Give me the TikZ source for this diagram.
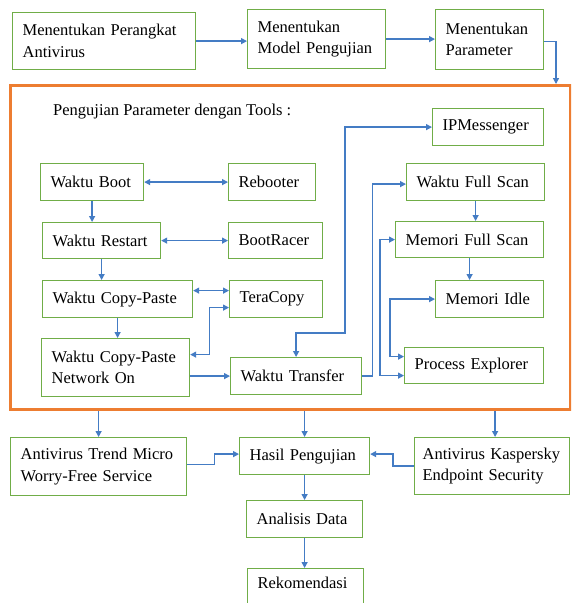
\documentclass[tikz,border=0pt]{standalone}
\usepackage{fontspec}
\setmainfont{Liberation Serif}
\usetikzlibrary{arrows.meta}
\definecolor{boxgreen}{RGB}{112,173,71}
\definecolor{arrblue}{RGB}{68,124,196}
\definecolor{grporange}{RGB}{237,125,49}
\begin{document}
\begin{tikzpicture}[x=1pt,y=-1pt,
  box/.style={draw=boxgreen, line width=1.2pt, fill=white, anchor=north west, align=left,
    inner xsep=10pt, inner ysep=0pt, font=\fontsize{16.5}{21.5}\selectfont},
  grpbox/.style={draw=grporange, line width=3pt, anchor=north west, inner sep=0pt},
  arr/.style={draw=arrblue, line width=1.3pt, -{Triangle[length=6pt,width=6pt]}},
  darr/.style={draw=arrblue, line width=1.3pt, {Triangle[length=6pt,width=6pt]}-{Triangle[length=6pt,width=6pt]}}]
\useasboundingbox (0,0) rectangle (571,603);
\fill[white] (0,0) rectangle (571,603);
\clip (0,0) rectangle (571,603);

% top row
\node[box, text width=163pt, minimum height=57pt] (b1) at (12,12) {Menentukan Perangkat\\Antivirus};
\node[box, text width=118pt, minimum height=59pt] (b2) at (247,9) {Menentukan\\Model Pengujian};
\node[box, text width=88pt, minimum height=60pt] (b3) at (435,9) {Menentukan\\Parameter};

% group
\node[grpbox, minimum width=560pt, minimum height=324pt] (grp) at (9,84) {};
\node[anchor=west, inner sep=0pt, font=\fontsize{16.5}{21.5}\selectfont] (title) at (53,112) {Pengujian Parameter dengan Tools :};

% left column
\node[box, text width=83pt, minimum height=37pt] (wb) at (40,163) {Waktu Boot};
\node[box, text width=67pt, minimum height=37pt] (reb) at (228,163) {Rebooter};
\node[box, text width=98pt, minimum height=36pt] (wr) at (42,222) {Waktu Restart};
\node[box, text width=74pt, minimum height=36pt] (br) at (228,222) {BootRacer};
\node[box, text width=130pt, minimum height=37pt] (wcp) at (42,280) {Waktu Copy-Paste};
\node[box, text width=73pt, minimum height=37pt] (tc) at (229,280) {TeraCopy};
\node[box, text width=128pt, minimum height=58pt] (wcpn) at (41,338) {Waktu Copy-Paste\\Network On};
\node[box, text width=111pt, minimum height=37pt] (wt) at (230,357) {Waktu Transfer};

% right column
\node[box, text width=91pt, minimum height=37pt] (ipm) at (432,108) {IPMessenger};
\node[box, text width=118pt, minimum height=37pt] (wfs) at (406,163) {Waktu Full Scan};
\node[box, text width=128pt, minimum height=36pt] (mfs) at (395,221) {Memori Full Scan};
\node[box, text width=88pt, minimum height=37pt] (mi) at (435,280) {Memori Idle};
\node[box, text width=119pt, minimum height=36pt] (pe) at (404,347) {Process Explorer};

% bottom
\node[box, text width=156pt, minimum height=58pt] (tm) at (10,437) {Antivirus Trend Micro\\Worry-Free Service};
\node[box, text width=110pt, minimum height=37pt] (hp) at (239,437) {Hasil Pengujian};
\node[box, text width=139pt, inner xsep=8pt, minimum height=57pt] (ks) at (414,437) {\mbox{Antivirus Kaspersky}\\\mbox{Endpoint Security}};
\node[box, text width=96pt, minimum height=37pt] (ad) at (246,500) {Analisis Data};
\node[box, text width=96pt, minimum height=40pt, text depth=12pt] (rk) at (247,568) {Rekomendasi};

% top connectors
\draw[arr] (b1.east) -- (b1.east -| b2.west);
\draw[arr] (b2.east) -- (b2.east -| b3.west);
\coordinate (g1) at (556,84);
\draw[arr] ([yshift=-2pt]b3.east) -| (g1);

% left column connectors
\draw[darr] (wb) -- (reb);
\draw[darr] (wr) -- (br);
\draw[arr] (wb.south) -- (wb.south |- wr.north);
\draw[arr] (wr.south) -- (wr.south |- wcp.north);
\coordinate (c8) at ([yshift=8.5pt]wcp.east);
\draw[darr] (c8) -- (c8 -| tc.west);
\draw[arr] (wcp.south) -- (wcp.south |- wcpn.north);
\draw[darr] ([yshift=13pt]wcpn.east) -- ++(19,0) |- ([yshift=-8.5pt]tc.west);
\draw[arr] (wcpn.east |- wt.west) -- (wt.west);

% right column connectors
\draw[darr] (wt.north) -- ++(0,-24) -| ([xshift=-87pt]ipm.west) -- (ipm.west);
\draw[arr] (wt.east) -- ++(10,0) |- ([yshift=-2pt]wfs.west);
\draw[darr] (mfs.west) -- ++(-15,0) |- ([yshift=-10pt]pe.west);
\draw[darr] (mi.west) -- ++(-45,0) |- ([yshift=9pt]pe.west);
\draw[arr] (wfs.south) -- (wfs.south |- mfs.north);
\draw[arr] (mfs.south) -- (mfs.south |- mi.north);

% bottom connectors
\draw[arr] (grp.south -| tm.north) -- (tm.north);
\draw[arr] (grp.south -| hp.north) -- (hp.north);
\draw[arr] ([xshift=3pt]grp.south -| ks.north) -- ([xshift=3pt]ks.north);
\draw[arr] ([yshift=2pt]tm.east) -- ++(27,0) |- ([yshift=2pt]hp.west);
\draw[arr] (ks.west) -- ++(-21,0) |- ([yshift=2pt]hp.east);
\draw[arr] (hp) -- (ad);
\draw[arr] (ad.south) -- (ad.south |- rk.north);
\end{tikzpicture}
\end{document}
